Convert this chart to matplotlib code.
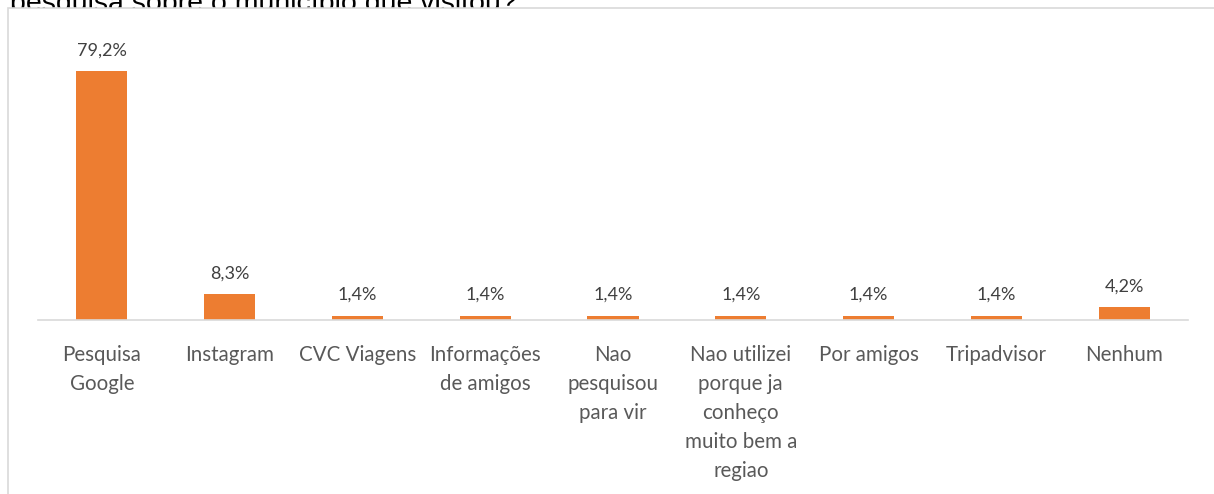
import matplotlib
matplotlib.use("Agg")
import matplotlib.pyplot as plt
from matplotlib.patches import Rectangle

categories = ["Pesquisa\nGoogle", "Instagram", "CVC Viagens", "Informações\nde amigos",
              "Nao\npesquisou\npara vir", "Nao utilizei\nporque ja\nconheço\nmuito bem a\nregiao",
              "Por amigos", "Tripadvisor", "Nenhum"]
values = [79.2, 8.3, 1.4, 1.4, 1.4, 1.4, 1.4, 1.4, 4.2]
value_labels = ["79,2%", "8,3%", "1,4%", "1,4%", "1,4%", "1,4%", "1,4%", "1,4%", "4,2%"]
title = "pesquisa sobre o município que visitou?"

W, H = 1214, 494
fig = plt.figure(figsize=(W/100, H/100), dpi=100)
plt.rcParams['font.family'] = ['Lato', 'DejaVu Sans']

# title (partly hidden behind the chart area, as in the reference)
fig.text(10/W, (H - 11)/H, title, fontsize=20.5, color='black', ha='left', va='baseline',
         family=['Liberation Sans', 'DejaVu Sans'], zorder=-10)

# chart area with border
fig.patches.append(Rectangle((8/W, -0.1), 1.2, (H - 8)/H + 0.1, transform=fig.transFigure,
                             fill=True, facecolor='white', edgecolor='#D9D9D9',
                             linewidth=1.2, zorder=-5))

ax_left, ax_right = 38, 1188
base_y = 320
ymax = 85
px_per = 3.14
ax_top = base_y - ymax * px_per
ax = fig.add_axes([ax_left/W, (H - base_y)/H, (ax_right - ax_left)/W, (base_y - ax_top)/H])
ax.set_facecolor('none')
x = list(range(len(values)))
bars = ax.bar(x, values, width=0.4, color='#ED7D31')
ax.set_xlim(-0.5, len(values) - 0.5)
ax.set_ylim(0, ymax)
for s in ['top', 'right', 'left']:
    ax.spines[s].set_visible(False)
ax.spines['bottom'].set_color('#D9D9D9')
ax.spines['bottom'].set_linewidth(1.2)
ax.set_yticks([])
ax.set_xticks(x)
ax.set_xticklabels(categories, fontsize=14.8, color='#595959', linespacing=1.57, va='top')
ax.tick_params(axis='x', length=0, pad=18)
for xi, v, lab in zip(x, values, value_labels):
    ax.annotate(lab, (xi, v), xytext=(0, 9), textcoords='offset points',
                ha='center', va='bottom', fontsize=13, color='#404040')

fig.savefig("out.png", dpi=100)
